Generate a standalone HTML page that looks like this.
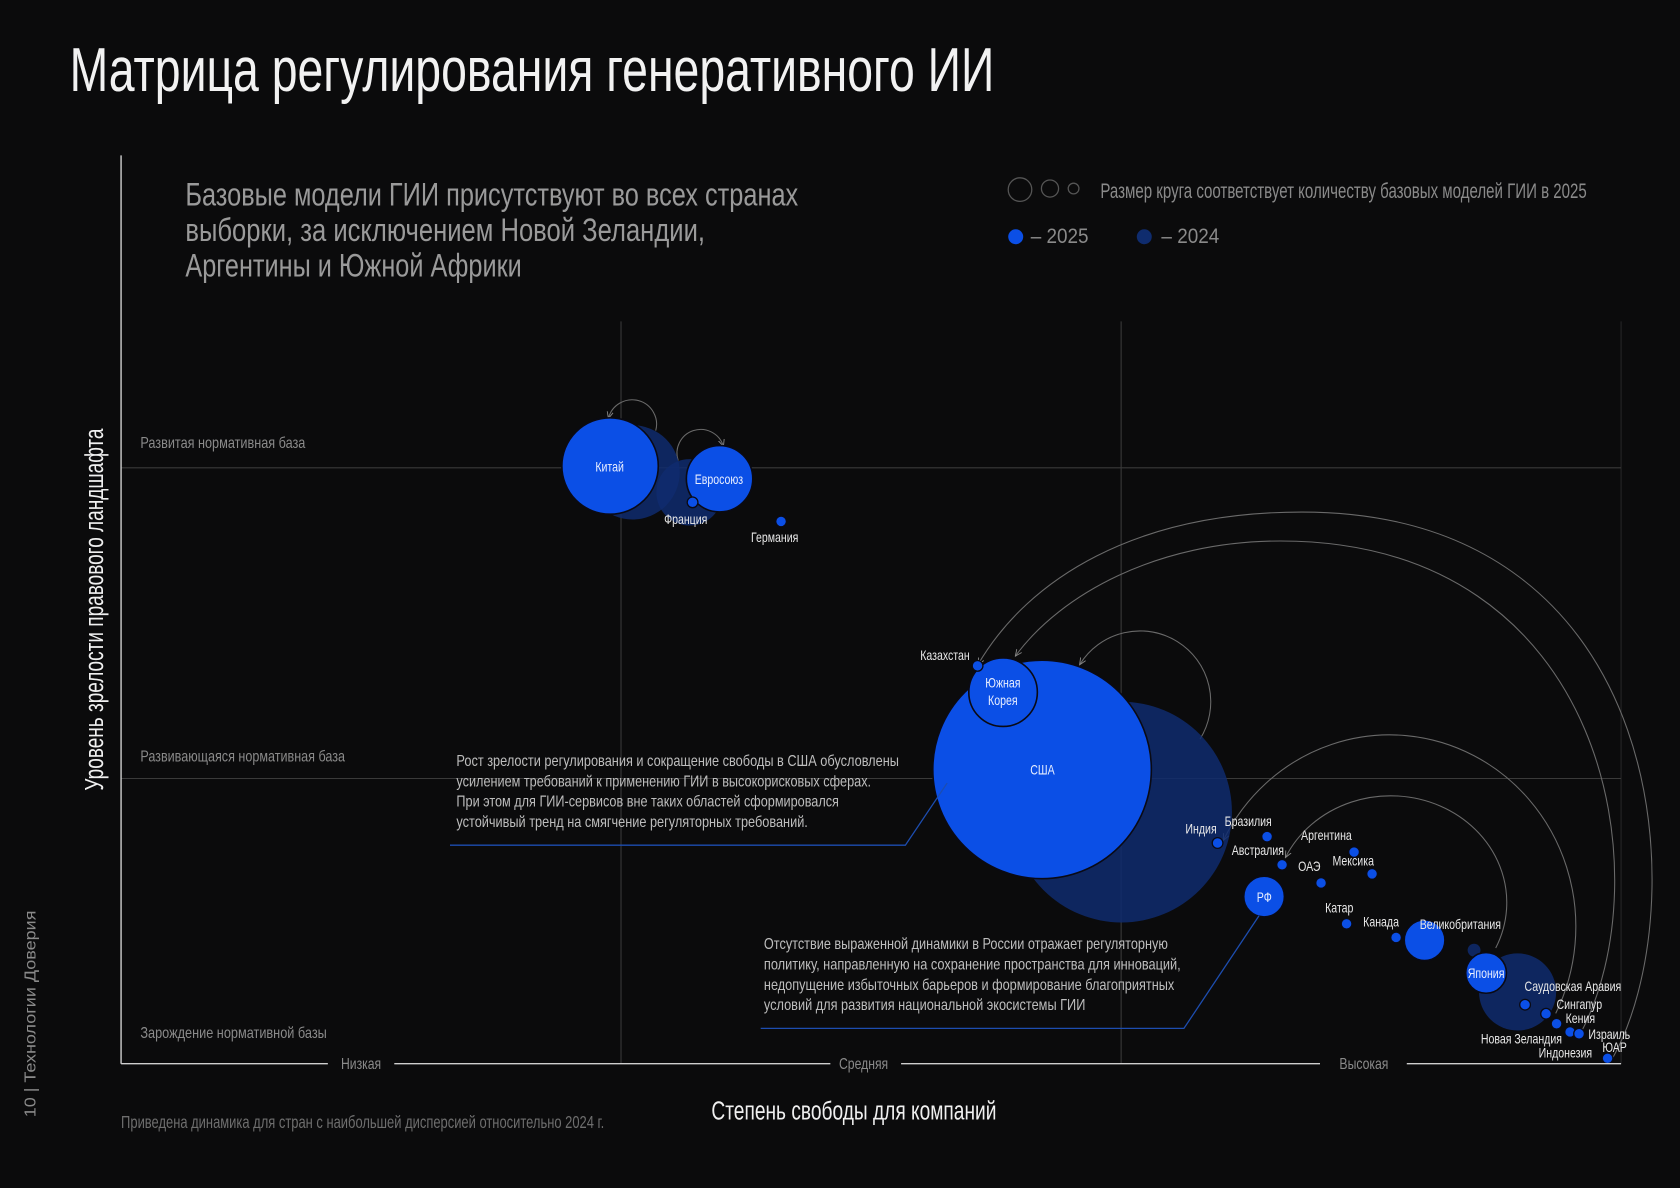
<!DOCTYPE html>
<html><head><meta charset="utf-8"><style>
html,body{margin:0;padding:0;background:#0b0b0c;}
svg{display:block;}
text{font-family:"Liberation Sans Narrow","Liberation Sans",sans-serif;}
</style></head><body>
<svg id="chart" width="1680" height="1188" viewBox="0 0 1568 1109" preserveAspectRatio="none" xmlns="http://www.w3.org/2000/svg">
<defs>
<marker id="ah" viewBox="0 0 10 10" refX="8" refY="5" markerWidth="7" markerHeight="7" orient="auto"><path d="M0,1 L9,5 L0,9" fill="none" stroke="#888" stroke-width="1.2"/></marker>
</defs>
<rect width="1568" height="1109" fill="#0b0b0c"/>
<text x="65" y="85" font-size="58" fill="#f2f2f2" textLength="863" lengthAdjust="spacingAndGlyphs">Матрица регулирования генеративного ИИ</text>

<g fill="#9a9a9a" font-size="30">
<text x="173" y="192" textLength="572" lengthAdjust="spacingAndGlyphs">Базовые модели ГИИ присутствуют во всех странах</text>
<text x="173" y="225" textLength="485" lengthAdjust="spacingAndGlyphs">выборки, за исключением Новой Зеландии,</text>
<text x="173" y="258" textLength="314" lengthAdjust="spacingAndGlyphs">Аргентины и Южной Африки</text>
</g>

<g>
<circle cx="952" cy="177" r="11" fill="none" stroke="#555" stroke-width="1.2"/>
<circle cx="980" cy="176" r="8" fill="none" stroke="#555" stroke-width="1.2"/>
<circle cx="1002" cy="176" r="5" fill="none" stroke="#555" stroke-width="1.2"/>
<text x="1027" y="185" font-size="20" fill="#8a8a8a" textLength="454" lengthAdjust="spacingAndGlyphs">Размер круга соответствует количеству базовых моделей ГИИ в 2025</text>
<circle cx="948" cy="221" r="7" fill="#0b4fe6"/>
<text x="962" y="227" font-size="20" fill="#8a8a8a" textLength="54" lengthAdjust="spacingAndGlyphs">– 2025</text>
<circle cx="1068" cy="221" r="7" fill="#0f2c6e"/>
<text x="1084" y="227" font-size="20" fill="#8a8a8a" textLength="54" lengthAdjust="spacingAndGlyphs">– 2024</text>
</g>

<g id="grid"></g>
<g id="arrows" fill="none" stroke="#6a6a6a" stroke-width="1" marker-end="url(#ah)">
<path d="M612,402 A22,22 0 0 0 568,390"/>
<path d="M633,430 A22,22 0 0 1 675,416"/>
<path d="M1120,690 A56,56 0 0 0 1008,620"/>
<path d="M1505,988 C1582,850 1562,478 1215,478 C1060,478 960,540 913,620"/>
<path d="M1475,965 C1552,820 1502,505 1195,505 C1080,505 990,555 948,612"/>
<path d="M1452,946 A165,170 0 0 0 1142,784"/>
<path d="M1396,885 A100,92 0 0 0 1200,800"/>
</g>
<g id="bubbles"></g>

<g>
<polyline points="884,731 845,789 420,789" fill="none" stroke="#1d4db0" stroke-width="1.2"/>
<polyline points="1175,855 1105,960 710,960" fill="none" stroke="#1d4db0" stroke-width="1.2"/>
<g fill="#bdbdbd" font-size="15">
<text x="426" y="715" textLength="413" lengthAdjust="spacingAndGlyphs">Рост зрелости регулирования и сокращение свободы в США обусловлены</text>
<text x="426" y="734" textLength="387" lengthAdjust="spacingAndGlyphs">усилением требований к применению ГИИ в высокорисковых сферах.</text>
<text x="426" y="753" textLength="357" lengthAdjust="spacingAndGlyphs">При этом для ГИИ-сервисов вне таких областей сформировался</text>
<text x="426" y="772" textLength="328" lengthAdjust="spacingAndGlyphs">устойчивый тренд на смягчение регуляторных требований.</text>
</g>
<g fill="#bdbdbd" font-size="15">
<text x="713" y="886" textLength="377" lengthAdjust="spacingAndGlyphs">Отсутствие выраженной динамики в России отражает регуляторную</text>
<text x="713" y="905" textLength="389" lengthAdjust="spacingAndGlyphs">политику, направленную на сохранение пространства для инноваций,</text>
<text x="713" y="924" textLength="383" lengthAdjust="spacingAndGlyphs">недопущение избыточных барьеров и формирование благоприятных</text>
<text x="713" y="943" textLength="300" lengthAdjust="spacingAndGlyphs">условий для развития национальной экосистемы ГИИ</text>
</g>
</g>

<g id="labels" fill="#e8e8e8" font-size="13">
<text x="569" y="440" text-anchor="middle" fill="#e8eeff">Китай</text>
<text x="671" y="452" text-anchor="middle" fill="#e8eeff">Евросоюз</text>
<text x="640" y="489" text-anchor="middle">Франция</text>
<text x="723" y="506" text-anchor="middle">Германия</text>
<text x="882" y="616" text-anchor="middle">Казахстан</text>
<text x="936" y="642" text-anchor="middle" fill="#e8eeff">Южная</text>
<text x="936" y="658" text-anchor="middle" fill="#e8eeff">Корея</text>
<text x="973" y="723" text-anchor="middle" fill="#e8eeff">США</text>
<text x="1121" y="778" text-anchor="middle">Индия</text>
<text x="1165" y="771" text-anchor="middle">Бразилия</text>
<text x="1174" y="798" text-anchor="middle">Австралия</text>
<text x="1238" y="784" text-anchor="middle">Аргентина</text>
<text x="1263" y="808" text-anchor="middle">Мексика</text>
<text x="1222" y="813" text-anchor="middle">ОАЭ</text>
<text x="1180" y="842" text-anchor="middle" fill="#e8eeff">РФ</text>
<text x="1250" y="852" text-anchor="middle">Катар</text>
<text x="1289" y="865" text-anchor="middle">Канада</text>
<text x="1363" y="867" text-anchor="middle">Великобритания</text>
<text x="1387" y="913" text-anchor="middle" fill="#e8eeff">Япония</text>
<text x="1468" y="925" text-anchor="middle">Саудовская Аравия</text>
<text x="1474" y="942" text-anchor="middle">Сингапур</text>
<text x="1475" y="955" text-anchor="middle">Кения</text>
<text x="1420" y="974" text-anchor="middle">Новая Зеландия</text>
<text x="1502" y="970" text-anchor="middle">Израиль</text>
<text x="1461" y="987" text-anchor="middle">Индонезия</text>
<text x="1507" y="982" text-anchor="middle">ЮАР</text>
</g>

<g>
<line x1="113" y1="145" x2="113" y2="993" stroke="#cfcfcf" stroke-width="1.3"/>
<line x1="113" y1="993" x2="306" y2="993" stroke="#cfcfcf" stroke-width="1.3"/>
<line x1="368" y1="993" x2="775" y2="993" stroke="#cfcfcf" stroke-width="1.3"/>
<line x1="841" y1="993" x2="1232" y2="993" stroke="#cfcfcf" stroke-width="1.3"/>
<line x1="1313" y1="993" x2="1513" y2="993" stroke="#cfcfcf" stroke-width="1.3"/>
<g id="ticks" fill="#8a8a8a" font-size="15" text-anchor="middle">
<text x="337" y="998">Низкая</text>
<text x="806" y="998">Средняя</text>
<text x="1273" y="998">Высокая</text>
</g>
<g fill="#8a8a8a" font-size="15">
<text x="131" y="418" textLength="154" lengthAdjust="spacingAndGlyphs">Развитая нормативная база</text>
<text x="131" y="711" textLength="191" lengthAdjust="spacingAndGlyphs">Развивающаяся нормативная база</text>
<text x="131" y="969" textLength="174" lengthAdjust="spacingAndGlyphs">Зарождение нормативной базы</text>
</g>
<text x="664" y="1045" font-size="24" fill="#f0f0f0" textLength="266" lengthAdjust="spacingAndGlyphs">Степень свободы для компаний</text>
<text transform="translate(96,738) rotate(-90)" font-size="24" fill="#f0f0f0" textLength="338" lengthAdjust="spacingAndGlyphs">Уровень зрелости правового ландшафта</text>
</g>
<text x="113" y="1053" font-size="16" fill="#6e6e6e" textLength="451" lengthAdjust="spacingAndGlyphs">Приведена динамика для стран с наибольшей дисперсией относительно 2024 г.</text>
<text transform="translate(33,1043) rotate(-90)" font-size="15" fill="#8a8a8a" style="font-family:'Liberation Sans',sans-serif" textLength="193" lengthAdjust="spacingAndGlyphs">10  |  Технологии Доверия</text>

<script>
// data (x: freedom 0-100, y: maturity 0-100, r: bubble radius ~ model count)
const countries = ["Китай","Евросоюз","Франция","Германия","Казахстан","Южная Корея","США","Индия","Бразилия","Австралия","Аргентина","Мексика","ОАЭ","РФ","Катар","Канада","Великобритания","Япония","Саудовская Аравия","Сингапур","Кения","Новая Зеландия","Израиль","ЮАР"];
const x2025 = [32.6,39.9,38.1,44.0,57.1,58.8,61.4,73.1,76.4,77.4,82.2,83.4,80.0,76.2,81.7,85.0,86.9,91.0,93.6,95.0,95.7,96.6,97.2,99.1];
const y2025 = [65.8,64.4,61.8,59.7,43.8,40.9,32.4,24.3,25.0,21.9,23.3,20.9,19.9,18.4,15.4,13.9,13.6,10.0,6.5,5.5,4.4,3.5,3.3,0.6];
const r2025 = [45,31,5,5,5,32,102,5,5,5,5,5,5,19,5,5,19,19,5,5,5,5,5,5];
const countries2024 = ["Китай","Евросоюз","США","Япония","Великобритания-2024"];
const x2024 = [34.1,37.9,66.7,93.1,90.2];
const y2024 = [65.1,62.9,27.7,7.9,12.5];
const r2024 = [44,31,103,36,6];
const xGrid = [33.33,66.67,100];
const yGrid = [31.4,65.6];

const NS="http://www.w3.org/2000/svg";
function sx(v){return 113+v*14;}
function sy(v){return 993-v*8.48;}
const grid=document.getElementById('grid');
xGrid.forEach((g,i)=>{
  const l=document.createElementNS(NS,'line');
  l.setAttribute('x1',sx(g));l.setAttribute('x2',sx(g));
  l.setAttribute('y1',300);l.setAttribute('y2',993);
  l.setAttribute('stroke',i==2?'#262626':'#3a3a3a');l.setAttribute('stroke-width','1');
  
  
  grid.appendChild(l);
});
yGrid.forEach(g=>{
  const l=document.createElementNS(NS,'line');
  l.setAttribute('x1',113);l.setAttribute('x2',1513);
  l.setAttribute('y1',sy(g));l.setAttribute('y2',sy(g));
  l.setAttribute('stroke','#3a3a3a');l.setAttribute('stroke-width','1');
  
  
  grid.appendChild(l);
});
const bub=document.getElementById('bubbles');
x2024.forEach((v,i)=>{
  const c=document.createElementNS(NS,'circle');
  c.setAttribute('cx',sx(v));c.setAttribute('cy',sy(y2024[i]));c.setAttribute('r',r2024[i]);
  c.setAttribute('fill','#0f2c6e');c.setAttribute('fill-opacity','0.85');
  
  
  bub.appendChild(c);
});
const order=countries.map((c,i)=>i).sort((a,b)=>r2025[b]-r2025[a]);
order.forEach(i=>{
  const c=document.createElementNS(NS,'circle');
  c.setAttribute('cx',sx(x2025[i]));c.setAttribute('cy',sy(y2025[i]));c.setAttribute('r',r2025[i]);
  c.setAttribute('fill','#0b4fe6');
  c.setAttribute('stroke','#0a0a14');c.setAttribute('stroke-width',r2025[i]>10?'1.5':'1.2');
  
  
  bub.appendChild(c);
});
document.querySelectorAll('#labels text, #ticks text').forEach(t=>{
  const w=t.getComputedTextLength();
  t.setAttribute('textLength',(w*0.76).toFixed(1));
  t.setAttribute('lengthAdjust','spacingAndGlyphs');
});
</script>
</svg>
</body></html>
